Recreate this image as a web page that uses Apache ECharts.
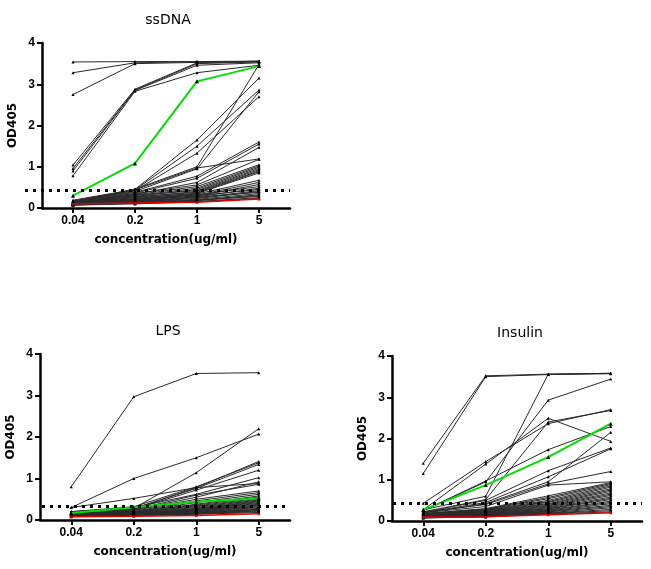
<!DOCTYPE html>
<html>
<head>
<meta charset="utf-8">
<script src="https://cdn.jsdelivr.net/npm/echarts@6/dist/echarts.min.js"></script>
<style>
  html, body { margin: 0; background: #fff; }
  #chart { width: 651px; height: 569px; }
</style>
</head>
<body>
<div id="chart"></div>
<script>
// OD405 vs. antigen concentration, one line per sample
const concentrations = ['0.04', '0.2', '1', '5'];
const yTicks = [0, 1, 2, 3, 4];

const ssdnaLines = [
  [3.54, 3.55, 3.55, 3.56],
  [3.28, 3.52, 3.55, 3.55],
  [2.75, 3.50, 3.53, 3.56],
  [1.04, 2.88, 3.52, 3.55],
  [0.96, 2.86, 3.50, 3.54],
  [0.90, 2.85, 3.46, 3.52],
  [0.78, 2.83, 3.28, 3.46],
  [0.19, 0.45, 1.65, 3.15],
  [0.17, 0.44, 1.50, 2.86],
  [0.16, 0.42, 1.33, 2.70],
  [0.15, 0.46, 1.00, 3.48],
  [0.16, 0.40, 0.95, 2.82],
  [0.15, 0.38, 0.77, 1.60],
  [0.14, 0.36, 0.72, 1.55],
  [0.13, 0.33, 0.62, 1.47],
  [0.14, 0.44, 0.97, 1.19],
  [0.13, 0.35, 0.56, 1.18],
  [0.12, 0.32, 0.52, 1.05],
  [0.13, 0.30, 0.48, 1.02],
  [0.11, 0.28, 0.45, 0.99],
  [0.12, 0.31, 0.42, 0.96],
  [0.10, 0.26, 0.40, 0.93],
  [0.11, 0.27, 0.38, 0.90],
  [0.10, 0.23, 0.36, 0.88],
  [0.12, 0.25, 0.35, 0.85],
  [0.10, 0.21, 0.34, 0.67],
  [0.11, 0.22, 0.31, 0.62],
  [0.09, 0.19, 0.29, 0.57],
  [0.10, 0.20, 0.32, 0.52],
  [0.09, 0.17, 0.27, 0.48],
  [0.10, 0.18, 0.30, 0.45],
  [0.08, 0.16, 0.25, 0.42],
  [0.09, 0.15, 0.23, 0.40],
  [0.08, 0.15, 0.26, 0.38],
  [0.09, 0.14, 0.21, 0.35],
  [0.08, 0.13, 0.19, 0.32],
  [0.08, 0.12, 0.18, 0.30],
  [0.07, 0.12, 0.19, 0.28],
  [0.08, 0.11, 0.16, 0.25],
  [0.07, 0.10, 0.15, 0.23]
];
const ssdnaGreen = [0.30, 1.08, 3.07, 3.44];
const ssdnaRed = [0.10, 0.12, 0.14, 0.22];
const ssdnaCutoff = 0.44;

const lpsLines = [
  [0.80, 2.97, 3.53, 3.55],
  [0.30, 1.00, 1.50, 2.07],
  [0.20, 0.28, 1.14, 2.20],
  [0.30, 0.52, 0.78, 1.41],
  [0.20, 0.32, 0.80, 1.38],
  [0.18, 0.28, 0.76, 1.34],
  [0.17, 0.26, 0.72, 1.20],
  [0.20, 0.30, 0.62, 1.02],
  [0.16, 0.27, 0.78, 0.88],
  [0.15, 0.25, 0.60, 0.86],
  [0.17, 0.24, 0.55, 0.92],
  [0.14, 0.23, 0.50, 0.70],
  [0.15, 0.21, 0.46, 0.66],
  [0.14, 0.20, 0.42, 0.62],
  [0.13, 0.20, 0.38, 0.58],
  [0.14, 0.19, 0.36, 0.55],
  [0.12, 0.18, 0.34, 0.52],
  [0.13, 0.18, 0.32, 0.50],
  [0.12, 0.17, 0.30, 0.48],
  [0.13, 0.16, 0.28, 0.46],
  [0.11, 0.16, 0.27, 0.44],
  [0.12, 0.15, 0.26, 0.42],
  [0.11, 0.15, 0.25, 0.40],
  [0.12, 0.14, 0.24, 0.38],
  [0.10, 0.14, 0.23, 0.36],
  [0.11, 0.13, 0.22, 0.34],
  [0.10, 0.13, 0.21, 0.32],
  [0.11, 0.12, 0.20, 0.30],
  [0.10, 0.12, 0.19, 0.28],
  [0.09, 0.11, 0.18, 0.26],
  [0.10, 0.11, 0.17, 0.25],
  [0.09, 0.10, 0.16, 0.23],
  [0.10, 0.12, 0.15, 0.22],
  [0.09, 0.11, 0.15, 0.20],
  [0.08, 0.10, 0.14, 0.18]
];
const lpsGreen = [0.17, 0.31, 0.44, 0.52];
const lpsRed = [0.08, 0.09, 0.11, 0.15];
const lpsCutoff = 0.34;

const insulinLines = [
  [1.40, 3.52, 3.56, 3.58],
  [1.15, 3.50, 3.55, 3.57],
  [0.43, 1.44, 2.36, 2.70],
  [0.27, 1.38, 2.49, 1.93],
  [0.27, 0.60, 3.56, 3.58],
  [0.25, 0.95, 2.93, 3.44],
  [0.22, 0.52, 2.40, 2.68],
  [0.25, 0.97, 1.73, 2.29],
  [0.22, 0.50, 1.22, 1.77],
  [0.20, 0.45, 1.07, 1.75],
  [0.20, 0.42, 0.95, 2.15],
  [0.21, 0.40, 0.90, 1.20],
  [0.20, 0.35, 0.87, 0.95],
  [0.18, 0.30, 0.61, 0.93],
  [0.17, 0.29, 0.57, 0.91],
  [0.18, 0.28, 0.54, 0.88],
  [0.16, 0.27, 0.50, 0.85],
  [0.17, 0.26, 0.47, 0.82],
  [0.15, 0.25, 0.45, 0.78],
  [0.16, 0.24, 0.42, 0.75],
  [0.14, 0.23, 0.40, 0.72],
  [0.15, 0.22, 0.38, 0.68],
  [0.13, 0.21, 0.36, 0.65],
  [0.14, 0.20, 0.34, 0.62],
  [0.12, 0.19, 0.32, 0.58],
  [0.13, 0.18, 0.30, 0.55],
  [0.11, 0.17, 0.29, 0.52],
  [0.12, 0.16, 0.27, 0.48],
  [0.10, 0.15, 0.26, 0.45],
  [0.11, 0.15, 0.24, 0.42],
  [0.09, 0.14, 0.23, 0.38],
  [0.10, 0.13, 0.22, 0.35],
  [0.08, 0.12, 0.20, 0.32],
  [0.09, 0.12, 0.19, 0.28],
  [0.07, 0.11, 0.18, 0.25],
  [0.08, 0.10, 0.17, 0.22]
];
const insulinGreen = [0.27, 0.87, 1.55, 2.36];
const insulinRed = [0.10, 0.10, 0.15, 0.20];
const insulinCutoff = 0.43;

const panels = [
  { title: 'ssDNA', lines: ssdnaLines, green: ssdnaGreen, red: ssdnaRed, cutoff: ssdnaCutoff,
    box: { left: 42, top: 43, width: 248, height: 165 }, cutoffLeft: 25, titleX: 163, titleTop: 8 },
  { title: 'LPS', lines: lpsLines, green: lpsGreen, red: lpsRed, cutoff: lpsCutoff,
    box: { left: 40, top: 354, width: 250, height: 166 }, cutoffLeft: 42, titleX: 163, titleTop: 319 },
  { title: 'Insulin', lines: insulinLines, green: insulinGreen, red: insulinRed, cutoff: insulinCutoff,
    box: { left: 392, top: 356, width: 250, height: 165 }, cutoffLeft: 393, titleX: 515, titleTop: 321 }
];

const labelFont = { fontFamily: 'Liberation Sans, Arial', fontWeight: 'bold', fontSize: 12, color: '#000' };
const nameFont = { fontFamily: 'DejaVu Sans', fontWeight: 'bold', fontSize: 12, color: '#000' };
const axisLine = { show: true, lineStyle: { color: '#000', width: 2.5 } };

const grids = [], xAxes = [], yAxes = [], titles = [], series = [];

panels.forEach((p, i) => {
  const g = 2 * i;
  grids.push({ left: p.box.left, top: p.box.top, width: p.box.width, height: p.box.height });
  // separate grid for the dotted cut-off line (ssDNA line runs past the y axis)
  grids.push({ left: p.cutoffLeft, top: p.box.top,
    width: p.box.left + p.box.width - p.cutoffLeft, height: p.box.height });

  xAxes.push({
    type: 'category', gridIndex: g, data: concentrations, boundaryGap: true,
    axisLine: axisLine,
    axisTick: { show: true, alignWithLabel: true, length: 5, lineStyle: { color: '#000', width: 2 } },
    axisLabel: Object.assign({ margin: 7 }, labelFont),
    name: 'concentration(ug/ml)', nameLocation: 'middle', nameGap: 26, nameTextStyle: nameFont
  });
  xAxes.push({ type: 'value', gridIndex: g + 1, min: 0, max: 1, show: false });

  yAxes.push({
    type: 'value', gridIndex: g, min: yTicks[0], max: yTicks[yTicks.length - 1], interval: 1,
    axisLine: axisLine,
    axisTick: { show: true, length: 5, lineStyle: { color: '#000', width: 2 } },
    axisLabel: Object.assign({ margin: 7 }, labelFont),
    splitLine: { show: false },
    name: 'OD405', nameLocation: 'middle', nameGap: 23, nameRotate: 90, nameTextStyle: nameFont
  });
  yAxes.push({ type: 'value', gridIndex: g + 1, min: yTicks[0], max: yTicks[yTicks.length - 1], show: false });

  titles.push({
    text: p.title, left: p.titleX, top: p.titleTop, textAlign: 'center',
    textStyle: { fontFamily: 'DejaVu Sans', fontSize: 14, fontWeight: 'normal', color: '#000' }
  });

  p.lines.forEach(line => {
    series.push({
      type: 'line', xAxisIndex: g, yAxisIndex: g, data: line,
      symbol: 'triangle', symbolSize: 3, silent: true, z: 2,
      lineStyle: { color: '#2a2a2a', width: 1 }, itemStyle: { color: '#000' }
    });
  });
  series.push({
    type: 'line', xAxisIndex: g, yAxisIndex: g, data: p.red,
    symbol: 'triangle', symbolSize: 3, silent: true, z: 3,
    lineStyle: { color: '#e00000', width: 1.5 }, itemStyle: { color: '#e00000' }
  });
  series.push({
    type: 'line', xAxisIndex: g, yAxisIndex: g, data: p.green,
    symbol: 'triangle', symbolSize: 4, silent: true, z: 4,
    lineStyle: { color: '#00e000', width: 2 }, itemStyle: { color: '#000' }
  });
  series.push({
    type: 'line', xAxisIndex: g + 1, yAxisIndex: g + 1, data: [], silent: true, z: 5,
    markLine: {
      symbol: ['none', 'none'], silent: true, label: { show: false },
      lineStyle: { color: '#000', width: 3, type: [3, 5] },
      data: [{ yAxis: p.cutoff }]
    }
  });
});

const chart = echarts.init(document.getElementById('chart'));
chart.setOption({
  animation: false,
  backgroundColor: '#fff',
  title: titles,
  grid: grids,
  xAxis: xAxes,
  yAxis: yAxes,
  series: series
});
</script>
</body>
</html>
